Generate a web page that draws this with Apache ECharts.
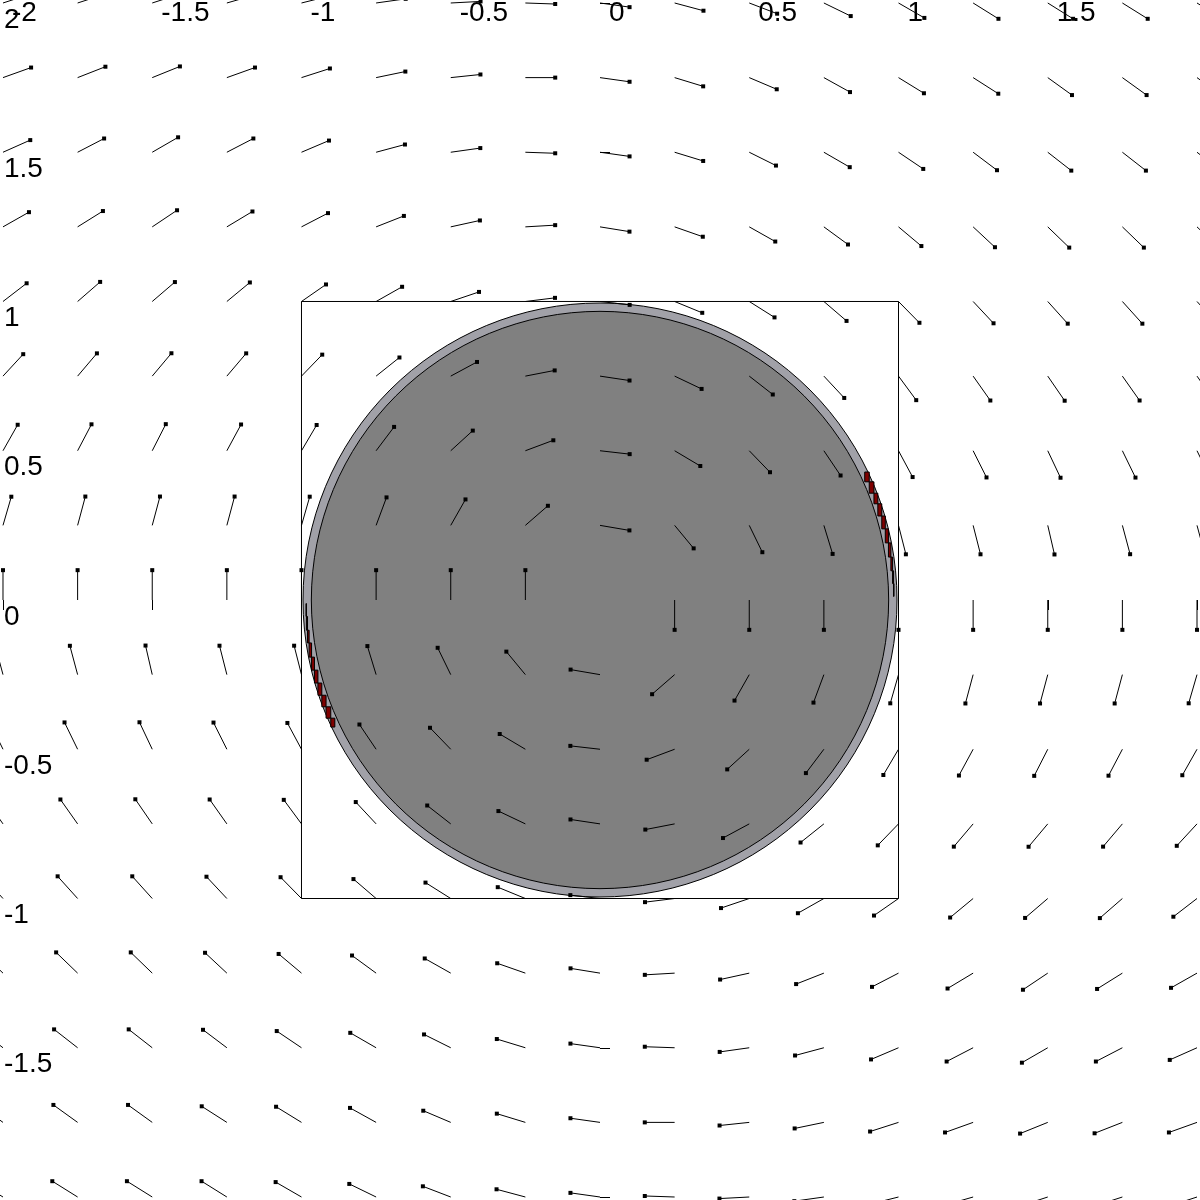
<!DOCTYPE html>
<html>
<head>
<meta charset="utf-8">
<script src="https://cdn.jsdelivr.net/npm/echarts@6/dist/echarts.min.js"></script>
<style>
  html, body { margin: 0; padding: 0; background: #fff; }
  #chart { width: 1200px; height: 1200px; }
</style>
</head>
<body>
<div id="chart"></div>
<script>
// grid of sample points
const gridX = [-2, -1.75, -1.5, -1.25, -1, -0.75, -0.5, -0.25, 0, 0.25, 0.5, 0.75, 1, 1.25, 1.5, 1.75, 2];
const gridY = [2, 1.75, 1.5, 1.25, 1, 0.75, 0.5, 0.25, 0, -0.25, -0.5, -0.75, -1, -1.25, -1.5, -1.75, -2];

// arrow direction (degrees, ccw from +x) per row, left to right
const ang200 = [18, 18, 18, 16, 14, 8, 3, -2, -8, -15, -21, -26, -30, -32, -32, -32, -32];
const ang175 = [19.7, 21.4, 22, 19.7, 17.8, 11.7, 6, 0, -8, -17, -23, -29, -31.6, -32.6, -35.8, -35.8, -36];
const ang150 = [24, 27.4, 30, 27.4, 23, 15, 8, -2, -8, -17, -26.5, -30, -34, -37, -38, -38, -38];
const ang125 = [29.5, 32, 33.8, 31, 27.4, 21.5, 12.4, 3.3, -9.2, -19.3, -29.4, -36.2, -40, -43, -44, -44, -44];
const ang100 = [37.6, 41, 40.6, 39.6, 34.8, 29.5, 18.7, 7, -6.5, -22.3, -32.2, -40.6, -45.5, -46.9, -48, -48, -48];
const ang075 = [47.3, 49.7, 50, 49.7, 46, 38.6, 28.3, 11, -8.5, -25.4, -38, -47, -53.6, -54.8, -55.5, -54.8, -55];
const ang050 = [60.5, 62.3, 63, 61.6, 59.5, 53, 42.4, 20.5, -6.5, -30.7, -46, -56, -61.8, -63.4, -64.7, -64, -64];
const ang025 = [73.8, 75, 75, 75, 74, 69.6, 60.4, 41, -9.7, -50.4, -64, -73, -75.7, -75.7, -77, -75, -75];
const ang000 = [90, 90, 90, 90, 90, 90, 90, 90, null, -90, -90, -90, -90, -90, -90, -90, -90];
const angM025 = [105, 105, 103, 104.3, 104.3, 107, 116, 129.6, 170.3, -139, -119.6, -110.4, -106, -105, -105, -105, -106.2];
const angM050 = [116, 116, 115.3, 116.6, 118.2, 124, 134, 149.3, 173.5, -159.5, -137.6, -127, -120.5, -118.4, -117, -117.7, -119.5];
const angM075 = [125, 125.2, 124.5, 125.2, 126.4, 133, 142, 154.6, 171.5, -169, -151.7, -141.4, -134, -130.3, -130, -130.3, -132.7];
const angM100 = [132, 132, 132, 133.1, 134.5, 139.4, 147.8, 157.7, 173.5, -173, -161.3, -150.5, -145.2, -140.4, -139.4, -139, -142.4];
const angM125 = [136, 136, 136, 137, 140, 143.8, 150.6, 160.7, 170.8, -176.7, -167.6, -158.5, -152.6, -149, -146.2, -148, -150.5];
const angM150 = [142, 142, 142, 143, 146, 150, 153.5, 163, 172, 178, -172, -165, -157, -152.6, -150, -152.6, -156];
const angM175 = [144, 144.2, 144.2, 147.4, 148.4, 151, 157, 163, 172, 180, -174, -168.3, -162.2, -160.3, -158, -158.6, -160.3];
const angM200 = [148, 148, 148, 148, 150, 154, 159, 165, 172, 178, -177, -172, -166, -164, -162, -162, -162];

// ring cells flagged red (angle edges in degrees along the ring)
const redEdgesRight = [0.7, 3.2, 5.7, 8.4, 11.2, 14.0, 16.6, 19.1, 21.3, 23.7, 25.8];
const redEdgesLeft = [180.7, 183.2, 185.9, 188.4, 191.2, 193.8, 196.4, 198.9, 201.3, 203.7, 205.6];

const tickValues = [-2, -1.5, -1, -0.5, 0, 0.5, 1, 1.5, 2];
const squareCorners = [[-1, -1], [1, -1], [1, 1], [-1, 1], [-1, -1]];
const ringRadii = [0.995, 0.967];

const angleRows = [ang200, ang175, ang150, ang125, ang100, ang075, ang050, ang025, ang000,
  angM025, angM050, angM075, angM100, angM125, angM150, angM175, angM200];

const arrowData = [];
angleRows.forEach((row, i) => {
  row.forEach((a, j) => {
    if (a !== null) arrowData.push([gridX[j], gridY[i], a]);
  });
});

const redData = [];
[redEdgesRight, redEdgesLeft].forEach(edges => {
  for (let k = 0; k < edges.length - 1; k++) redData.push([edges[k], edges[k + 1]]);
});

const ARROW_LEN = 0.1;
const CELL_R = 0.985;

const chart = echarts.init(document.getElementById('chart'));
const font = 'Liberation Sans, Arial, sans-serif';

chart.setOption({
  animation: false,
  backgroundColor: '#fff',
  grid: { left: 0, top: 0, width: 1200, height: 1200, containLabel: false, outerBoundsMode: 'none' },
  xAxis: {
    type: 'value', min: -2.01, max: 2.01, position: 'top',
    axisLine: { show: false }, splitLine: { show: false },
    axisTick: { show: true, inside: true, length: 10, customValues: tickValues, lineStyle: { color: '#000', width: 1 } },
    axisLabel: {
      inside: true, customValues: tickValues, color: '#000', fontSize: 28, fontFamily: font,
      align: 'left', verticalAlign: 'top', margin: -1, padding: [0, 0, 0, 9]
    }
  },
  yAxis: {
    type: 'value', min: -2.01, max: 2.01,
    axisLine: { show: false }, splitLine: { show: false },
    axisTick: { show: true, inside: true, length: 10, customValues: tickValues, lineStyle: { color: '#000', width: 1 } },
    axisLabel: {
      inside: true, customValues: tickValues, color: '#000', fontSize: 28, fontFamily: font,
      align: 'left', verticalAlign: 'top', margin: 4, padding: [3, 0, 0, 0]
    }
  },
  series: [
    {
      type: 'custom', z: 1, silent: true,
      data: ringRadii.map(r => [0, 0, r]),
      renderItem(params, api) {
        const c = api.coord([api.value(0), api.value(1)]);
        const r = api.size([api.value(2), 0])[0];
        return {
          type: 'circle',
          shape: { cx: c[0], cy: c[1], r: r },
          style: { fill: params.dataIndex === 0 ? '#a1a1a8' : '#808080', stroke: '#000', lineWidth: 1 }
        };
      }
    },
    {
      type: 'custom', z: 2, silent: true,
      data: redData,
      renderItem(params, api) {
        const a0 = api.value(0) * Math.PI / 180, a1 = api.value(1) * Math.PI / 180;
        const p0 = api.coord([CELL_R * Math.cos(a0), CELL_R * Math.sin(a0)]);
        const p1 = api.coord([CELL_R * Math.cos(a1), CELL_R * Math.sin(a1)]);
        return {
          type: 'rect',
          shape: {
            x: Math.min(p0[0], p1[0]), y: Math.min(p0[1], p1[1]),
            width: Math.abs(p1[0] - p0[0]), height: Math.abs(p1[1] - p0[1])
          },
          style: { fill: '#800000', stroke: '#000', lineWidth: 1 }
        };
      }
    },
    {
      type: 'line', z: 3, silent: true, symbol: 'none',
      data: squareCorners,
      lineStyle: { color: '#000', width: 1 }
    },
    {
      type: 'custom', z: 4, silent: true,
      data: arrowData,
      renderItem(params, api) {
        const x = api.value(0), y = api.value(1), a = api.value(2) * Math.PI / 180;
        const p0 = api.coord([x, y]);
        const p1 = api.coord([x + ARROW_LEN * Math.cos(a), y + ARROW_LEN * Math.sin(a)]);
        return {
          type: 'group',
          children: [
            { type: 'line', shape: { x1: p0[0], y1: p0[1], x2: p1[0], y2: p1[1] }, style: { stroke: '#000', lineWidth: 1 } },
            { type: 'rect', shape: { x: p1[0] - 2, y: p1[1] - 2, width: 4, height: 4 }, style: { fill: '#000' } }
          ]
        };
      }
    }
  ]
});
</script>
</body>
</html>
